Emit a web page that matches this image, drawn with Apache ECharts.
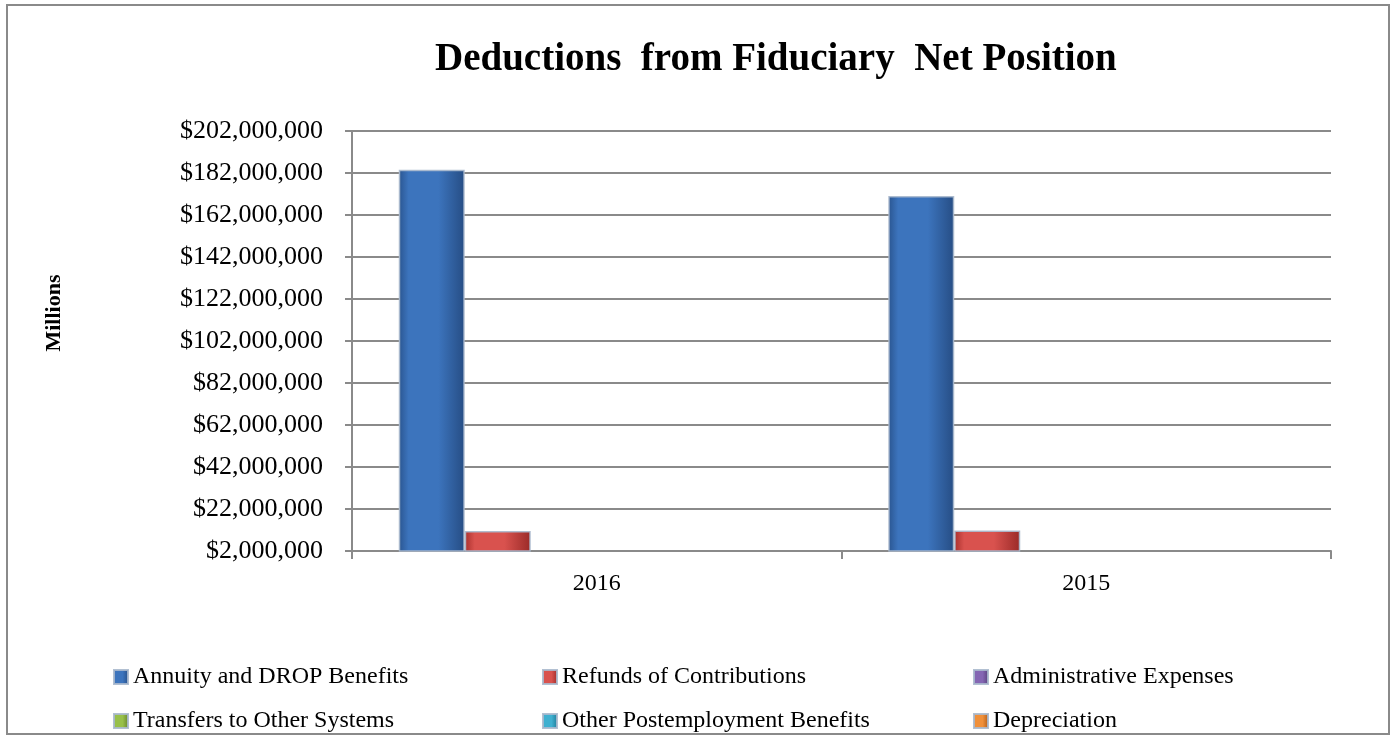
<!DOCTYPE html>
<html>
<head>
<meta charset="utf-8">
<script src="https://cdn.jsdelivr.net/npm/echarts@6/dist/echarts.min.js"></script>
<style>html,body{margin:0;padding:0;background:#fff;}#c{width:1395px;height:740px;}</style>
</head>
<body>
<div id="c"></div>
<script>
const categories = ['2016', '2015'];
const seriesNames = ['Annuity and DROP Benefits', 'Refunds of Contributions', 'Administrative Expenses',
  'Transfers to Other Systems', 'Other Postemployment Benefits', 'Depreciation'];
const annuity = [183500000, 171000000];
const refunds = [11500000, 11800000];
const admin = [1700000, 1600000];
const transfers = [400000, 900000];
const opeb = [300000, 300000];
const depreciation = [100000, 100000];
const tickValues = [2000000, 22000000, 42000000, 62000000, 82000000, 102000000, 122000000, 142000000, 162000000, 182000000, 202000000];

const serif = '"Liberation Serif", "Times New Roman", serif';
const colors = [
  ['#2a5590', '#3c74bd', '#264d84'],
  ['#a8302d', '#d9524e', '#9a2a28'],
  ['#5e4785', '#8466b3', '#553f78'],
  ['#6f9032', '#98c04a', '#64822c'],
  ['#1f86a4', '#3fb0d0', '#1c7894'],
  ['#c0641c', '#f0903a', '#ad5a18']
];
function grad(c) {
  return new echarts.graphic.LinearGradient(0, 0, 1, 0, [
    {offset: 0, color: c[0]}, {offset: 0.15, color: c[1]}, {offset: 0.6, color: c[1]}, {offset: 1, color: c[2]}
  ]);
}
const dataSets = [annuity, refunds, admin, transfers, opeb, depreciation];
const series = seriesNames.map((n, i) => ({
  name: n,
  type: 'bar',
  data: dataSets[i],
  barWidth: 66,
  barGap: '0%',
  clip: true,
  itemStyle: {color: grad(colors[i]), borderColor: 'rgba(170,185,205,0.9)', borderWidth: 1.5}
}));

const legendCols = [108, 537, 968];
const legendRows = [660, 704];
const legends = seriesNames.map((n, i) => ({
  left: legendCols[i % 3],
  top: legendRows[Math.floor(i / 3)],
  itemWidth: 14,
  itemHeight: 14,
  itemGap: 0,
  icon: 'rect',
  textStyle: {fontFamily: serif, fontSize: 24, color: '#000'},
  data: [n]
}));

const chart = echarts.init(document.getElementById('c'));
chart.setOption({
  animation: false,
  backgroundColor: '#fff',
  color: colors.map(c => c[1]),
  title: {
    text: 'Deductions  from Fiduciary  Net Position',
    left: 435, top: 40, padding: 0,
    textStyle: {fontFamily: serif, fontSize: 39, fontWeight: 'bold', color: '#000'}
  },
  graphic: [
    {type: 'rect', shape: {x: 7, y: 5, width: 1382, height: 729}, style: {fill: 'none', stroke: '#8a8a8a', lineWidth: 2}, silent: true, z: -1},
    {type: 'text', x: 54, y: 313, rotation: Math.PI / 2,
     style: {text: 'Millions', fontFamily: serif, fontSize: 22, fontWeight: 'bold', fill: '#000', align: 'center', verticalAlign: 'middle'}}
  ],
  legend: legends,
  grid: {left: 352, right: 64, top: 131, bottom: 189, containLabel: false},
  xAxis: {
    type: 'category',
    data: categories,
    axisLine: {lineStyle: {color: '#8a8a8a', width: 2}},
    axisTick: {show: true, length: 8, lineStyle: {color: '#8a8a8a', width: 2}},
    axisLabel: {fontFamily: serif, fontSize: 24, color: '#000', margin: 21}
  },
  yAxis: {
    type: 'value',
    min: 2000000,
    max: 202000000,
    axisLine: {show: true, lineStyle: {color: '#8a8a8a', width: 2}},
    axisTick: {show: true, length: 7, customValues: tickValues, lineStyle: {color: '#8a8a8a', width: 2}},
    axisLabel: {
      customValues: tickValues,
      fontFamily: serif, fontSize: 26, color: '#000', margin: 29,
      formatter: v => '$' + Math.round(v).toLocaleString('en-US')
    },
    splitLine: {show: true, lineStyle: {color: '#8a8a8a', width: 2}}
  },
  series: series
});
</script>
</body>
</html>
